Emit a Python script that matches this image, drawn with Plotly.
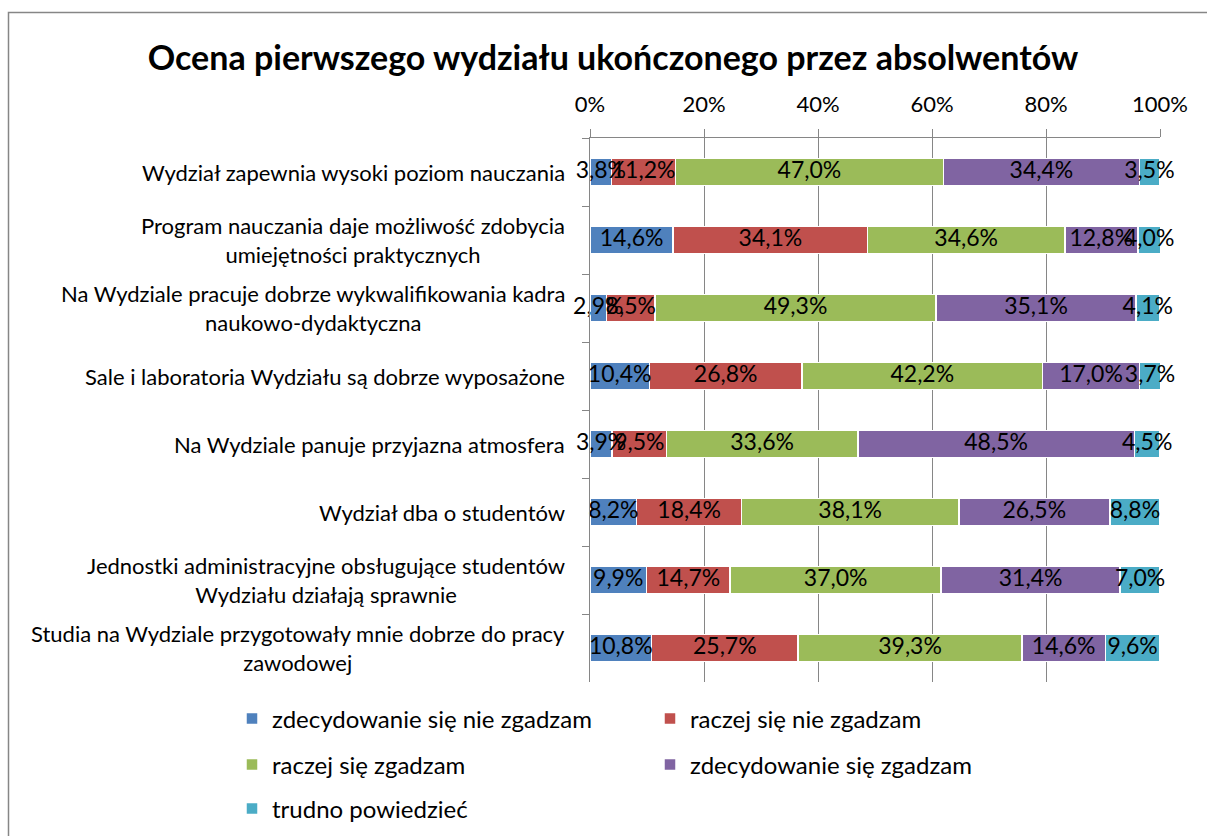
import plotly.graph_objects as go

categories = [
    "Wydział zapewnia wysoki poziom nauczania",
    "Program nauczania daje możliwość zdobycia<br>umiejętności praktycznych",
    "Na Wydziale pracuje dobrze wykwalifikowania kadra<br>naukowo-dydaktyczna",
    "Sale i laboratoria Wydziału są dobrze wyposażone",
    "Na Wydziale panuje przyjazna atmosfera",
    "Wydział dba o studentów",
    "Jednostki administracyjne obsługujące studentów<br>Wydziału działają sprawnie",
    "Studia na Wydziale przygotowały mnie dobrze do pracy<br>zawodowej",
]

series_names = [
    "zdecydowanie się nie zgadzam",
    "raczej się nie zgadzam",
    "raczej się zgadzam",
    "zdecydowanie się zgadzam",
    "trudno powiedzieć",
]

s1 = [3.8, 14.6, 2.9, 10.4, 3.9, 8.2, 9.9, 10.8]
s2 = [11.2, 34.1, 8.5, 26.8, 9.5, 18.4, 14.7, 25.7]
s3 = [47.0, 34.6, 49.3, 42.2, 33.6, 38.1, 37.0, 39.3]
s4 = [34.4, 12.8, 35.1, 17.0, 48.5, 26.5, 31.4, 14.6]
s5 = [3.5, 4.0, 4.1, 3.7, 4.5, 8.8, 7.0, 9.6]

colors = ["#4F81BD", "#C0504D", "#9BBB59", "#8064A2", "#4BACC6"]
tick_values = [0, 20, 40, 60, 80, 100]

FONT = "Lato, Calibri, Carlito, sans-serif"
GRID = "#868686"

all_series = [s1, s2, s3, s4, s5]
legend_ids = ["legend", "legend", "legend2", "legend2", "legend3"]

fig = go.Figure()
for name, vals, col, lg in zip(series_names, all_series, colors, legend_ids):
    fig.add_trace(go.Bar(
        y=categories, x=vals, name=name, orientation="h",
        marker=dict(color=col, line=dict(color="white", width=1.5)),
        legend=lg, hoverinfo="x+name",
    ))

# data labels centred in each segment
lab_x, lab_y, lab_t = [], [], []
for i, cat in enumerate(categories):
    base = 0.0
    for vals in all_series:
        v = vals[i]
        lab_x.append(base + v / 2)
        lab_y.append(cat)
        lab_t.append(f"{v:.1f}".replace(".", ",") + "%")
        base += v
fig.add_trace(go.Scatter(
    x=lab_x, y=lab_y, text=lab_t, mode="text", showlegend=False,
    textfont=dict(family=FONT, size=23, color="#000000"),
    cliponaxis=False, hoverinfo="skip",
))

# category labels (centred multi-line)
for cat in categories:
    fig.add_annotation(
        x=-0.04, xref="paper", y=cat, yref="y", text=cat,
        xanchor="right", yanchor="middle", align="center", showarrow=False,
        font=dict(family=FONT, size=22, color="#000000"),
    )

L, R, T, B = 590, 47, 138, 154
W, H = 1207, 836
pw, ph = W - L - R, H - T - B

def px_x(p):
    return (p - L) / pw

def px_y(p):
    return (H - B - p) / ph

fig.add_shape(type="rect", xref="paper", yref="paper",
              x0=px_x(8.5), x1=px_x(1230), y0=px_y(12.5), y1=px_y(900),
              line=dict(color=GRID, width=1.5), layer="below")

legend_common = dict(
    orientation="h", xanchor="left", yanchor="middle", traceorder="normal",
    font=dict(family=FONT, size=24, color="#000000"),
    entrywidth=373, entrywidthmode="pixels", bgcolor="rgba(0,0,0,0)",
    itemclick=False, itemdoubleclick=False,
)

fig.update_layout(
    width=W, height=H,
    margin=dict(l=L, r=R, t=T, b=B, autoexpand=False),
    paper_bgcolor="white", plot_bgcolor="white",
    barmode="stack", bargap=0.6,
    title=dict(text="<b>Ocena pierwszego wydziału ukończonego przez absolwentów</b>",
               x=613 / W, xref="container", xanchor="center",
               y=1 - 58 / H, yref="container", yanchor="middle",
               font=dict(family=FONT, size=34, color="#000000")),
    xaxis=dict(side="top", range=[0, 100], tickvals=tick_values,
               ticktext=[f"{v}%" for v in tick_values],
               showgrid=True, gridcolor=GRID, gridwidth=1,
               showline=True, linecolor=GRID, linewidth=1,
               ticks="outside", ticklen=8, tickcolor=GRID,
               ticklabelstandoff=8,
               tickfont=dict(family=FONT, size=22, color="#000000"),
               zeroline=False, fixedrange=True),
    yaxis=dict(autorange="reversed", type="category", showticklabels=False,
               showline=True, linecolor=GRID, linewidth=1,
               ticks="outside", tickson="boundaries", ticklen=7, tickcolor=GRID,
               showgrid=False, fixedrange=True),
    legend=dict(x=px_x(232), y=px_y(719), **legend_common),
    legend2=dict(x=px_x(232), y=px_y(765), **legend_common),
    legend3=dict(x=px_x(232), y=px_y(809), **legend_common),
    showlegend=True,
)

fig.write_html("out.html", config={"displayModeBar": False},
               post_script="document.body.style.margin='0px';")
